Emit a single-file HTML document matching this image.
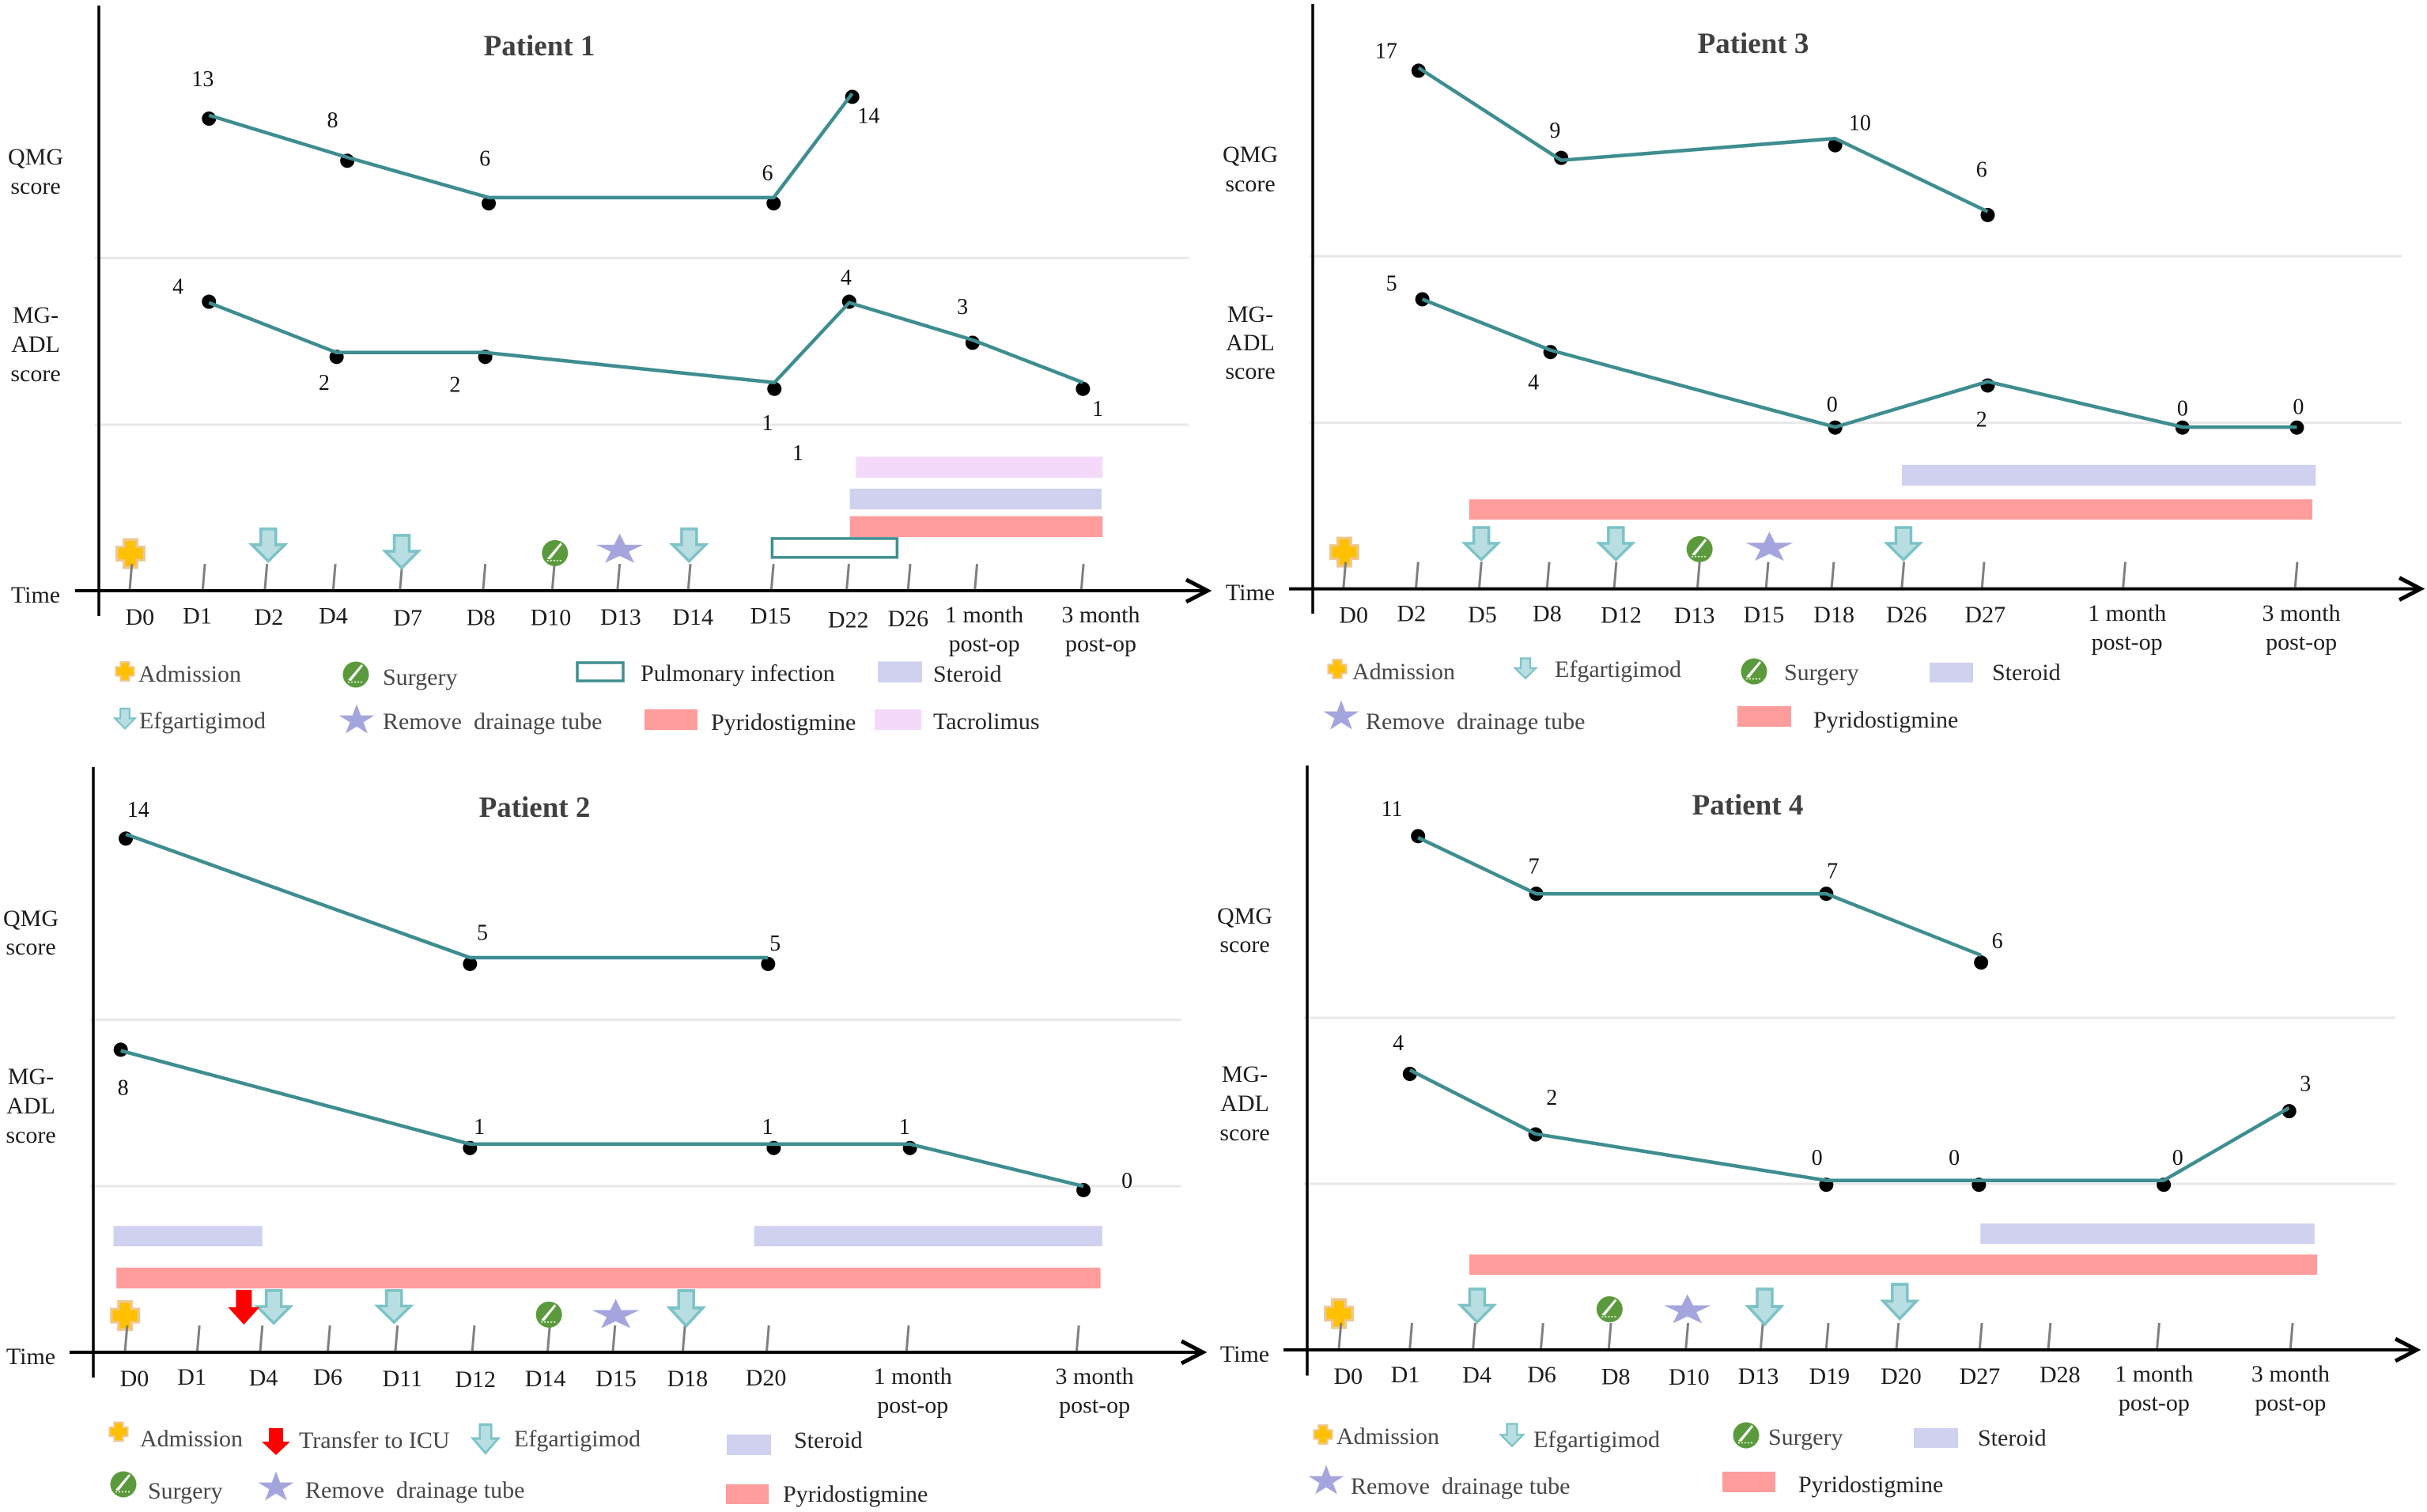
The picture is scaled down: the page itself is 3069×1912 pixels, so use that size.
<!DOCTYPE html>
<html lang="en">
<head>
<meta charset="utf-8">
<title>Patient timelines</title>
<style>
html,body{margin:0;padding:0;background:#fff;overflow:hidden}
svg{display:block}
text{font-family:"Liberation Serif",serif;font-size:30px;fill:#1c1c1c;white-space:pre}
.title{font-size:37px;font-weight:bold;fill:#404040;text-anchor:middle}
.ax{text-anchor:middle;fill:#1c1c1c}
.lg{fill:#474747}
.lk{fill:#262626}
.axis{stroke:#000;stroke-width:3.5;fill:none}
.time{stroke:#000;stroke-width:4;fill:none}
.head{stroke:#000;stroke-width:5;fill:none}
.grid{stroke:#e8e8e8;stroke-width:3;fill:none}
</style>
</head>
<body>
<svg id="fig" xmlns="http://www.w3.org/2000/svg" width="3069" height="1912" viewBox="0 0 3069 1912">
<defs>
  <g id="ico-admission">
    <polygon fill="#efc78f" points="-10,-19.5 10,-19.5 10,-10 19,-10 19,10 10,10 10,19.5 -10,19.5 -10,10 -19,10 -19,-10 -10,-10"/>
    <polygon fill="#ffc000" points="-6.5,-16 6.5,-16 6.5,-7 15.5,-7 15.5,7 6.5,7 6.5,16 -6.5,16 -6.5,7 -15.5,7 -15.5,-7 -6.5,-7"/>
  </g>
  <polygon id="ico-efg" fill="#b9dee1" stroke="#7cc3c7" stroke-width="3.5" points="-9.5,-20.6 9.5,-20.6 9.5,-1 21,-1 0,19.5 -21,-1 -9.5,-1"/>
  <polygon id="ico-red" fill="#ff0000" points="-10,-22 10,-22 10,0 20,0 0,22 -20,0 -10,0"/>
  <g id="ico-surgery">
    <circle r="16.5" fill="#5b9a3c"/>
    <polygon fill="#fff" points="-10,7 7,-13 9,-11 -6,8"/>
    <line x1="-10" y1="9.5" x2="10" y2="9.5" stroke="#fff" stroke-width="1.5" stroke-dasharray="2 2"/>
  </g>
  <polygon id="ico-star" fill="#a5a5de" points="0,-18.5 7.08,-4.37 30,-4.37 11.45,4.37 18.55,18.5 0,9.76 -18.55,18.5 -11.45,4.37 -30,-4.37 -7.08,-4.37"/>
</defs>

<!-- Patient 1 -->
<g>
  <text class="title" x="682" y="70">Patient 1</text>
  <line class="grid" x1="120" y1="326.4" x2="1503" y2="326.4"/>
  <line class="grid" x1="120" y1="537" x2="1503" y2="537"/>
  <line class="axis" x1="125" y1="7" x2="125" y2="779"/>
  <line class="time" x1="95" y1="747" x2="1525" y2="747"/>
  <polyline class="head" points="1500,733 1527,747 1500,761"/>
  <text class="ax" x="45" y="208">QMG</text>
  <text class="ax" x="45" y="245">score</text>
  <text class="ax" x="45" y="408">MG-</text>
  <text class="ax" x="45" y="445">ADL</text>
  <text class="ax" x="45" y="482">score</text>
  <text class="ax" x="45" y="762">Time</text>
  <g id="p1-marks"></g>
  <g>
    <use href="#ico-admission" transform="translate(158,849) scale(.66)"/>
    <text class="lg" x="175" y="862">Admission</text>
    <use href="#ico-surgery" transform="translate(450,853)"/>
    <text class="lg" x="484" y="866">Surgery</text>
    <rect x="730" y="838" width="58" height="23" fill="#fff" stroke="#3f8f90" stroke-width="3.5"/>
    <text class="lk" x="810" y="861">Pulmonary infection</text>
    <rect x="1110" y="836.5" width="56" height="26.5" fill="#d0d0ef"/>
    <text class="lk" x="1180" y="862">Steroid</text>
    <use href="#ico-efg" transform="translate(158,909) scale(.61,.63)"/>
    <text class="lg" x="176" y="921">Efgartigimod</text>
    <use href="#ico-star" transform="translate(451,909) scale(.75,1)"/>
    <text class="lg" x="484" y="922">Remove  drainage tube</text>
    <rect x="815" y="897" width="67" height="26" fill="#ff9c9c"/>
    <text class="lk" x="899" y="923">Pyridostigmine</text>
    <rect x="1106" y="897" width="59" height="26" fill="#f5d9fb"/>
    <text class="lk" x="1180" y="922">Tacrolimus</text>
  </g>
</g>

<!-- Patient 3 -->
<g>
  <text class="title" x="2217" y="67">Patient 3</text>
  <line class="grid" x1="1655" y1="324" x2="3037" y2="324"/>
  <line class="grid" x1="1655" y1="534.6" x2="3037" y2="534.6"/>
  <line class="axis" x1="1660" y1="5" x2="1660" y2="776"/>
  <line class="time" x1="1630" y1="744.6" x2="3059" y2="744.6"/>
  <polyline class="head" points="3034,730.6 3061,744.6 3034,758.6"/>
  <text class="ax" x="1581" y="205">QMG</text>
  <text class="ax" x="1581" y="242">score</text>
  <text class="ax" x="1581" y="407">MG-</text>
  <text class="ax" x="1581" y="443">ADL</text>
  <text class="ax" x="1581" y="479">score</text>
  <text class="ax" x="1581" y="759">Time</text>
  <g id="p3-marks"></g>
  <g>
    <use href="#ico-admission" transform="translate(1691,846) scale(.66)"/>
    <text class="lg" x="1710" y="859">Admission</text>
    <use href="#ico-efg" transform="translate(1929,845.5) scale(.63)"/>
    <text class="lg" x="1966" y="856">Efgartigimod</text>
    <use href="#ico-surgery" transform="translate(2218,849)"/>
    <text class="lg" x="2256" y="860">Surgery</text>
    <rect x="2440" y="838" width="55" height="25" fill="#d0d0ef"/>
    <text class="lk" x="2519" y="860">Steroid</text>
    <use href="#ico-star" transform="translate(1696,904) scale(.75,1)"/>
    <text class="lg" x="1727" y="922">Remove  drainage tube</text>
    <rect x="2197" y="893" width="68" height="26" fill="#ff9c9c"/>
    <text class="lk" x="2293" y="920">Pyridostigmine</text>
  </g>
</g>

<!-- Patient 2 -->
<g>
  <text class="title" x="676" y="1033">Patient 2</text>
  <line class="grid" x1="114" y1="1289.6" x2="1493" y2="1289.6"/>
  <line class="grid" x1="114" y1="1500" x2="1493" y2="1500"/>
  <line class="axis" x1="118" y1="970" x2="118" y2="1742"/>
  <line class="time" x1="88" y1="1710" x2="1519" y2="1710"/>
  <polyline class="head" points="1494,1696 1521,1710 1494,1724"/>
  <text class="ax" x="39" y="1171">QMG</text>
  <text class="ax" x="39" y="1207">score</text>
  <text class="ax" x="39" y="1371">MG-</text>
  <text class="ax" x="39" y="1408">ADL</text>
  <text class="ax" x="39" y="1445">score</text>
  <text class="ax" x="39" y="1725">Time</text>
  <g id="p2-marks"></g>
  <g>
    <use href="#ico-admission" transform="translate(150,1810.5) scale(.66)"/>
    <text class="lg" x="177" y="1829">Admission</text>
    <use href="#ico-red" transform="translate(349,1823) scale(.9,.77)"/>
    <text class="lg" x="378" y="1831">Transfer to ICU</text>
    <use href="#ico-efg" transform="translate(614,1820) scale(.76,.9)"/>
    <text class="lg" x="650" y="1829">Efgartigimod</text>
    <rect x="919" y="1814" width="56" height="26" fill="#d0d0ef"/>
    <text class="lk" x="1004" y="1831">Steroid</text>
    <use href="#ico-surgery" transform="translate(156,1877)"/>
    <text class="lg" x="187" y="1895">Surgery</text>
    <use href="#ico-star" transform="translate(349,1879) scale(.75,1)"/>
    <text class="lg" x="386" y="1894">Remove  drainage tube</text>
    <rect x="918" y="1877" width="54" height="25" fill="#ff9c9c"/>
    <text class="lk" x="990" y="1899">Pyridostigmine</text>
  </g>
</g>

<!-- Patient 4 -->
<g>
  <text class="title" x="2210" y="1030">Patient 4</text>
  <line class="grid" x1="1649" y1="1287" x2="3029" y2="1287"/>
  <line class="grid" x1="1649" y1="1497" x2="3029" y2="1497"/>
  <line class="axis" x1="1653" y1="968" x2="1653" y2="1739.5"/>
  <line class="time" x1="1623" y1="1707" x2="3054" y2="1707"/>
  <polyline class="head" points="3029,1693 3056,1707 3029,1721"/>
  <text class="ax" x="1574" y="1168">QMG</text>
  <text class="ax" x="1574" y="1204">score</text>
  <text class="ax" x="1574" y="1368">MG-</text>
  <text class="ax" x="1574" y="1405">ADL</text>
  <text class="ax" x="1574" y="1442">score</text>
  <text class="ax" x="1574" y="1722">Time</text>
  <g id="p4-marks"></g>
  <g>
    <use href="#ico-admission" transform="translate(1673,1814) scale(.66)"/>
    <text class="lg" x="1690" y="1826">Admission</text>
    <use href="#ico-efg" transform="translate(1912,1815) scale(.67,.7)"/>
    <text class="lg" x="1939" y="1830">Efgartigimod</text>
    <use href="#ico-surgery" transform="translate(2208,1815)"/>
    <text class="lg" x="2236" y="1827">Surgery</text>
    <rect x="2420" y="1806" width="56" height="25" fill="#d0d0ef"/>
    <text class="lk" x="2501" y="1828">Steroid</text>
    <use href="#ico-star" transform="translate(1677,1871) scale(.75,1)"/>
    <text class="lg" x="1708" y="1889">Remove  drainage tube</text>
    <rect x="2178" y="1861" width="67" height="26" fill="#ff9c9c"/>
    <text class="lk" x="2274" y="1887">Pyridostigmine</text>
  </g>
</g>
</svg>

<script>
// ---------- Data: tick labels, scores, and when things happened (in tick-index units) ----------
const p1TickLabels = ['D0','D1','D2','D4','D7','D8','D10','D13','D14','D15','D22','D26','1 month\npost-op','3 month\npost-op'];
const p1QmgValues = [13,8,6,6,14];
const p1QmgTimes = [1.1,3.21,5.08,9.03,10.09];
const p1AdlValues = [4,2,2,1,4,3,1];
const p1AdlTimes = [1.1,3.05,5.03,9.04,10.04,11.965,13.015];
const p1Admission = [0.01];
const p1Efgartigimod = [2.05,4.02,8.01];
const p1Transfer = [];
const p1Surgery = [6.04];
const p1RemoveTube = [7.03];
const p1Steroid = [[10.05,13.19]];
const p1Pyridostigmine = [[10.05,13.2]];
const p1Tacrolimus = [[10.15,13.2]];
const p1Infection = [[9.01,10.82]];

const p2TickLabels = ['D0','D1','D4','D6','D11','D12','D14','D15','D18','D20','1 month\npost-op','3 month\npost-op'];
const p2QmgValues = [14,5,5];
const p2QmgTimes = [0.01,4.97,9.01];
const p2AdlValues = [8,1,1,1,0];
const p2AdlTimes = [-0.06,4.97,9.05,10.02,11.04];
const p2Admission = [0];
const p2Efgartigimod = [2.2,3.98,8.04];
const p2Transfer = [1.74];
const p2Surgery = [6.02];
const p2RemoveTube = [7.04];
const p2Steroid = [[-0.16,2.03],[8.85,11.15]];
const p2Pyridostigmine = [[-0.12,11.14]];
const p2Tacrolimus = [];
const p2Infection = [];

const p3TickLabels = ['D0','D2','D5','D8','D12','D13','D15','D18','D26','D27','1 month\npost-op','3 month\npost-op'];
const p3QmgValues = [17,9,10,6];
const p3QmgTimes = [1.04,3.21,7.05,9.04];
const p3AdlValues = [5,4,0,2,0,0];
const p3AdlTimes = [1.1,3.05,7.05,9.04,10.345,11.01];
const p3Admission = [0.01];
const p3Efgartigimod = [2.03,4.02,8.02];
const p3Transfer = [];
const p3Surgery = [5.03];
const p3RemoveTube = [6.05];
const p3Steroid = [[8,11.12]];
const p3Pyridostigmine = [[1.84,11.1]];
const p3Tacrolimus = [];
const p3Infection = [];

const p4TickLabels = ['D0','D1','D4','D6','D8','D10','D13','D19','D20','D27','D28','1 month\npost-op','3 month\npost-op'];
const p4QmgValues = [11,7,7,6];
const p4QmgTimes = [1.13,2.93,7,9.02];
const p4AdlValues = [4,2,0,0,0,3];
const p4AdlTimes = [1,2.92,7,8.99,11.05,11.99];
const p4Admission = [0];
const p4Efgartigimod = [2.06,6.06,8.04];
const p4Transfer = [];
const p4Surgery = [4.01];
const p4RemoveTube = [5.02];
const p4Steroid = [[9.01,12.18]];
const p4Pyridostigmine = [[1.94,12.2]];
const p4Tacrolimus = [];
const p4Infection = [];

// ---------- Axis functions ----------
function piecewise(domain, range) {
  return function (v) {
    const n = domain.length;
    let i = 0;
    while (i < n - 2 && v > domain[i + 1]) i++;
    const t = (v - domain[i]) / (domain[i + 1] - domain[i]);
    return range[i] + t * (range[i + 1] - range[i]);
  };
}
function descendingScale(domain, range) {
  const inner = piecewise(domain.map(function (d) { return -d; }), range);
  return function (v) { return inner(-v); };
}
const SY = 1.633;

function panelAxes(id) {
  // Axis calibration for each panel: origin, x stretch, tick rails and score scales.
  if (id === 'p1') return {
    ox: 0, oy: 0, sx: 1.018, axisY: 1220,
    rail: [167,261,341,429,515,622,711,795,886,993,1090,1169,1255,1392],
    railLabel: [180,254,346,429,525,619,709,799,892,992,1092,1169,1267,1417],
    labelBase: [1290,1288,1290,1288,1292,1291,1291,1290,1290,1288,1296,1293,1285,1285],
    qmgDomain: [14,13,8,6], qmgDot: [200,245,332,420], qmgLine: [193,238,325,408],
    adlDomain: [4,3,2,1], adlDot: [623,708,737,803], adlLine: [625,702,728,790],
    qmgOff: [[-8,-67],[-19,-69],[-5,-78],[-8,-48],[21,54]],
    adlOff: [[-40,-16],[-16,68],[-39,72],[-9,85],[-4,-35],[-13,-60],[19,56]],
    admissionY: 1143, surgeryY: 1142, starY: 1132,
    efgTop: [1090,1103,1090], efgTip: [1163,1177,1163],
    steroidY: [1009,1052], pyridoY: [1066,1109], tacroY: [943,987], infectY: [1112,1151]
  };
  if (id === 'p2') return {
    ox: 0, oy: 952, sx: 1.018, axisY: 1238,
    rail: [161,254,335,422,509,608,705,789,879,987,1167,1386],
    railLabel: [173,247,339,422,518,612,702,793,885,986,1175,1409],
    labelBase: [1308,1305,1306,1305,1308,1310,1308,1308,1308,1306,1303,1303],
    qmgDomain: [14,5], qmgDot: [177,436], qmgLine: [168,423],
    adlDomain: [8,1,0], adlDot: [613,816,903], adlLine: [615,808,895],
    qmgOff: [[16,-45],[16,-50],[9,-28]],
    adlOff: [[3,93],[12,-29],[-8,-29],[-7,-29],[56,-5]],
    admissionY: 1162, surgeryY: 1160, starY: 1158,
    efgTop: [1108,1108,1108], efgTip: [1182,1180,1188], redTop: 1108, redTip: 1182,
    steroidY: [977,1019], pyridoY: [1063,1106]
  };
  if (id === 'p3') return {
    ox: 1540, oy: 0, sx: 1.0255, axisY: 1216,
    rail: [163,257,339,427,514,622,711,796,887,991,1174,1397],
    railLabel: [176,251,343,427,523,618,708,799,893,995,1179,1405],
    labelBase: [1286,1283,1285,1283,1286,1287,1285,1285,1285,1285,1282,1282],
    qmgDomain: [17,10,9,6], qmgDot: [146,300,326,444], qmgLine: [140,286,331,437],
    adlDomain: [5,4,2,0], adlDot: [618,727,796,883], adlLine: [618,723,788,882],
    qmgOff: [[-42,-26],[-8,-42],[32,-31],[-8,-79]],
    adlOff: [[-40,-18],[-22,77],[-4,-33],[-8,85],[0,-25],[2,-28]],
    admissionY: 1140, surgeryY: 1134, starY: 1128,
    efgTop: [1087,1087,1087], efgTip: [1160,1160,1160],
    steroidY: [960,1003], pyridoY: [1031,1073]
  };
  return {
    ox: 1540, oy: 952, sx: 1.0255, axisY: 1233,
    rail: [157,249,331,419,507,607,704,789,880,988,1077,1218,1391],
    railLabel: [169,243,336,420,516,611,701,793,886,988,1092,1214,1391],
    labelBase: [1303,1300,1301,1300,1304,1305,1303,1303,1303,1303,1300,1298,1298],
    qmgDomain: [11,7,6], qmgDot: [172,291,433], qmgLine: [175,291,418],
    adlDomain: [4,3,2,0], adlDot: [663,740,788,892], adlLine: [655,733,787,883],
    qmgOff: [[-34,-41],[-3,-42],[8,-32],[21,-30]],
    adlOff: [[-15,-49],[21,-61],[-12,-41],[-32,-41],[18,-41],[21,-42]],
    admissionY: 1158, surgeryY: 1149, starY: 1148,
    efgTop: [1105,1105,1095], efgTip: [1180,1185,1173],
    steroidY: [972,1014], pyridoY: [1036,1078]
  };
}

const NS = 'http://www.w3.org/2000/svg';
function mk(parent, tag, attrs) {
  const el = document.createElementNS(NS, tag);
  for (const k in attrs) el.setAttribute(k, attrs[k]);
  parent.appendChild(el);
  return el;
}

function drawPanel(id, d) {
  const host = document.getElementById(id + '-marks');
  const A = panelAxes(id);
  const idx = A.rail.map(function (_, i) { return i; });
  const railScale = piecewise(idx, A.rail);
  const X = function (t) { return A.ox + railScale(t) / A.sx; };
  const Z = function (zx) { return A.ox + zx / A.sx; };
  const Y = function (zy) { return A.oy + zy / SY; };
  const qDot = descendingScale(A.qmgDomain, A.qmgDot);
  const qLine = descendingScale(A.qmgDomain, A.qmgLine);
  const aDot = descendingScale(A.adlDomain, A.adlDot);
  const aLine = descendingScale(A.adlDomain, A.adlLine);

  // admission sits behind its tick
  d.admission.forEach(function (t) {
    const u = mk(host, 'use', { href: '#ico-admission', transform: 'translate(' + X(t) + ',' + Y(A.admissionY) + ')' });
    
    
  });

  // ticks and tick labels
  d.ticks.forEach(function (label, i) {
    const bx = X(i), by = Y(A.axisY) - 2;
    const tick = mk(host, 'line', { x1: bx, y1: by, x2: bx + 2.7, y2: by - 32, stroke: '#7f7f7f', 'stroke-width': 3 });
    
    
    const lines = label.split('\n');
    lines.forEach(function (ln, j) {
      const t = mk(host, 'text', { x: Z(A.railLabel[i]), y: Y(A.labelBase[i]) + j * 36.5, 'text-anchor': 'middle' });
      t.textContent = ln;
      
      
    });
  });

  // treatment bars
  function bars(list, yr, fill, name) {
    list.forEach(function (b) {
      const x0 = X(b[0]), x1 = X(b[1]);
      const r = mk(host, 'rect', { x: x0, y: Y(yr[0]), width: x1 - x0, height: Y(yr[1]) - Y(yr[0]), fill: fill });
      
      
    });
  }
  bars(d.tacrolimus, A.tacroY, '#f5d9fb', 'tacrolimus-bar');
  bars(d.steroid, A.steroidY, '#d0d0ef', 'steroid-bar');
  bars(d.pyridostigmine, A.pyridoY, '#ff9c9c', 'pyridostigmine-bar');
  d.infection.forEach(function (b) {
    const x0 = X(b[0]), x1 = X(b[1]);
    const r = mk(host, 'rect', { x: x0, y: Y(A.infectY[0]), width: x1 - x0, height: Y(A.infectY[1]) - Y(A.infectY[0]), fill: '#fff', stroke: '#3f8f90', 'stroke-width': 3.5 });
    
    
  });

  // score dots + lines + printed values
  function series(values, times, dotY, lineY, offs, prefix) {
    values.forEach(function (v, i) {
      const c = mk(host, 'circle', { cx: X(times[i]), cy: Y(dotY(v)), r: 9, fill: '#000' });
      
      
    });
    const pts = values.map(function (v, i) { return X(times[i]) + ',' + Y(lineY(v)); }).join(' ');
    const pl = mk(host, 'polyline', { points: pts, fill: 'none', stroke: '#3e8d90', 'stroke-width': 4.5, 'stroke-linejoin': 'round' });
    
    
    values.forEach(function (v, i) {
      const o = offs[i] || [0, -40];
      const t = mk(host, 'text', { x: X(times[i]) + o[0] / A.sx, y: Y(dotY(v) + o[1]), 'text-anchor': 'middle', style: 'font-size:28px;fill:#111' });
      t.textContent = v;
      
      
    });
  }
  series(d.qmgValues, d.qmgTimes, qDot, qLine, A.qmgOff, 'qmg');
  series(d.adlValues, d.adlTimes, aDot, aLine, A.adlOff, 'mg-adl');

  // events on the time axis
  d.efgartigimod.forEach(function (t, i) {
    const top = Y(A.efgTop[i]), tip = Y(A.efgTip[i]);
    const u = mk(host, 'use', { href: '#ico-efg', transform: 'translate(' + X(t) + ',' + ((top + tip) / 2) + ') scale(1,' + ((tip - top) / 44) + ')' });
    
    
  });
  d.transfer.forEach(function (t) {
    const top = Y(A.redTop), tip = Y(A.redTip);
    const u = mk(host, 'use', { href: '#ico-red', transform: 'translate(' + X(t) + ',' + ((top + tip) / 2) + ')' });
    
    
  });
  d.surgery.forEach(function (t) {
    const u = mk(host, 'use', { href: '#ico-surgery', transform: 'translate(' + X(t) + ',' + Y(A.surgeryY) + ')' });
    
    
  });
  d.removeTube.forEach(function (t) {
    const u = mk(host, 'use', { href: '#ico-star', transform: 'translate(' + X(t) + ',' + Y(A.starY) + ')' });
    
    
  });

  // stray printed value in the Patient 1 panel
  if (id === 'p1') {
    const extra = mk(host, 'text', { x: Z(1027), y: Y(950), 'text-anchor': 'middle', style: 'font-size:28px;fill:#111' });
    extra.textContent = '1';
    
    
  }
}

drawPanel('p1', { ticks: p1TickLabels, qmgValues: p1QmgValues, qmgTimes: p1QmgTimes, adlValues: p1AdlValues, adlTimes: p1AdlTimes, admission: p1Admission, efgartigimod: p1Efgartigimod, transfer: p1Transfer, surgery: p1Surgery, removeTube: p1RemoveTube, steroid: p1Steroid, pyridostigmine: p1Pyridostigmine, tacrolimus: p1Tacrolimus, infection: p1Infection });
drawPanel('p2', { ticks: p2TickLabels, qmgValues: p2QmgValues, qmgTimes: p2QmgTimes, adlValues: p2AdlValues, adlTimes: p2AdlTimes, admission: p2Admission, efgartigimod: p2Efgartigimod, transfer: p2Transfer, surgery: p2Surgery, removeTube: p2RemoveTube, steroid: p2Steroid, pyridostigmine: p2Pyridostigmine, tacrolimus: p2Tacrolimus, infection: p2Infection });
drawPanel('p3', { ticks: p3TickLabels, qmgValues: p3QmgValues, qmgTimes: p3QmgTimes, adlValues: p3AdlValues, adlTimes: p3AdlTimes, admission: p3Admission, efgartigimod: p3Efgartigimod, transfer: p3Transfer, surgery: p3Surgery, removeTube: p3RemoveTube, steroid: p3Steroid, pyridostigmine: p3Pyridostigmine, tacrolimus: p3Tacrolimus, infection: p3Infection });
drawPanel('p4', { ticks: p4TickLabels, qmgValues: p4QmgValues, qmgTimes: p4QmgTimes, adlValues: p4AdlValues, adlTimes: p4AdlTimes, admission: p4Admission, efgartigimod: p4Efgartigimod, transfer: p4Transfer, surgery: p4Surgery, removeTube: p4RemoveTube, steroid: p4Steroid, pyridostigmine: p4Pyridostigmine, tacrolimus: p4Tacrolimus, infection: p4Infection });
</script>
</body>
</html>
